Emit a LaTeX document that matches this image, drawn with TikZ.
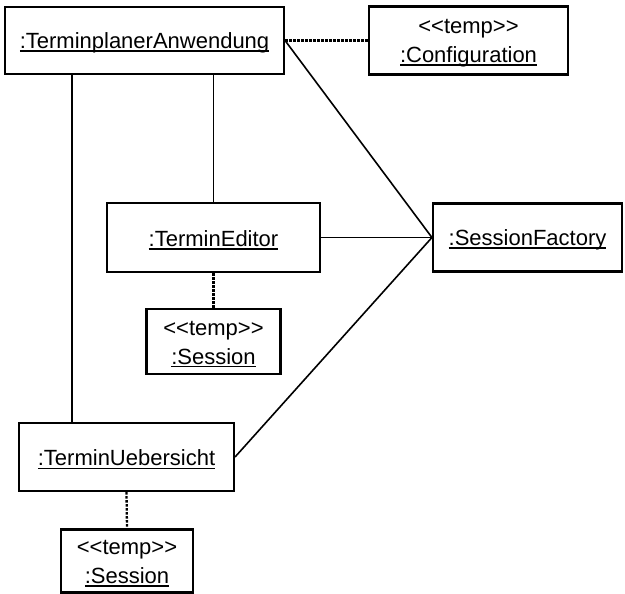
\documentclass[tikz,border=0pt]{standalone}
\usepackage{fontspec}
\setmainfont{Liberation Sans}
\usetikzlibrary{calc}
\newcommand\undl[1]{\setbox0\hbox{#1}\rlap{\rule[-3.2pt]{\wd0}{1.4pt}}\box0}
\begin{document}
\begin{tikzpicture}[x=1pt,y=-1pt,
  obj/.style={draw,line width=2.1pt,rectangle,inner sep=0pt},
  lbl/.style={inner sep=0pt,align=center,yshift=-2.5pt,
    font=\fontsize{22}{29}\selectfont},
  link/.style={line width=1.6pt},
  tmp/.style={line width=2.3pt,dash pattern=on 2.6pt off 1.4pt}]
\useasboundingbox (0,0) rectangle (625,594);
\node[obj,minimum width=279pt,minimum height=67pt] (TA) at (144.5,40.5) {};
\node[obj,minimum width=199pt,minimum height=68pt] (CF) at (468.5,40.5) {};
\node[obj,minimum width=213pt,minimum height=69pt] (TE) at (213.5,237.5) {};
\node[obj,minimum width=189pt,minimum height=68pt] (SF) at (527.5,237.5) {};
\node[obj,minimum width=134pt,minimum height=65pt] (S1) at (213.5,341.5) {};
\node[obj,minimum width=215pt,minimum height=68pt] (TU) at (126.5,457) {};
\node[obj,minimum width=132pt,minimum height=63pt] (S2) at (127,561) {};
\node[lbl] (TAt) at (TA.center) {\undl{:TerminplanerAnwendung}};
\node[lbl] (CFt) at (CF.center) {<{}<temp>{}>\\\undl{:Configuration}};
\node[lbl] (TEt) at (TE.center) {\undl{:TerminEditor}};
\node[lbl] (SFt) at (SF.center) {\undl{:SessionFactory}};
\node[lbl] (S1t) at (S1.center) {<{}<temp>{}>\\\undl{:Session}};
\node[lbl] (TUt) at (TU.center) {\undl{:TerminUebersicht}};
\node[lbl] (S2t) at (S2.center) {<{}<temp>{}>\\\undl{:Session}};
\coordinate (TUtop) at ($(TU.north west)!0.25!(TU.north east)$);
\draw[tmp] (TA.east) -- (CF.west);
\draw[link] (TA.east) -- (SF.west);
\draw[link] (TE.north |- TA.south) -- (TE.north);
\draw[link] (TUtop |- TA.south) -- (TUtop);
\draw[link] (TE.east) -- (SF.west);
\draw[link] (TU.east) -- (SF.west);
\draw[tmp] (TE.south) -- (S1.north);
\draw[tmp] (TU.south) -- (S2.north);
\end{tikzpicture}
\end{document}
